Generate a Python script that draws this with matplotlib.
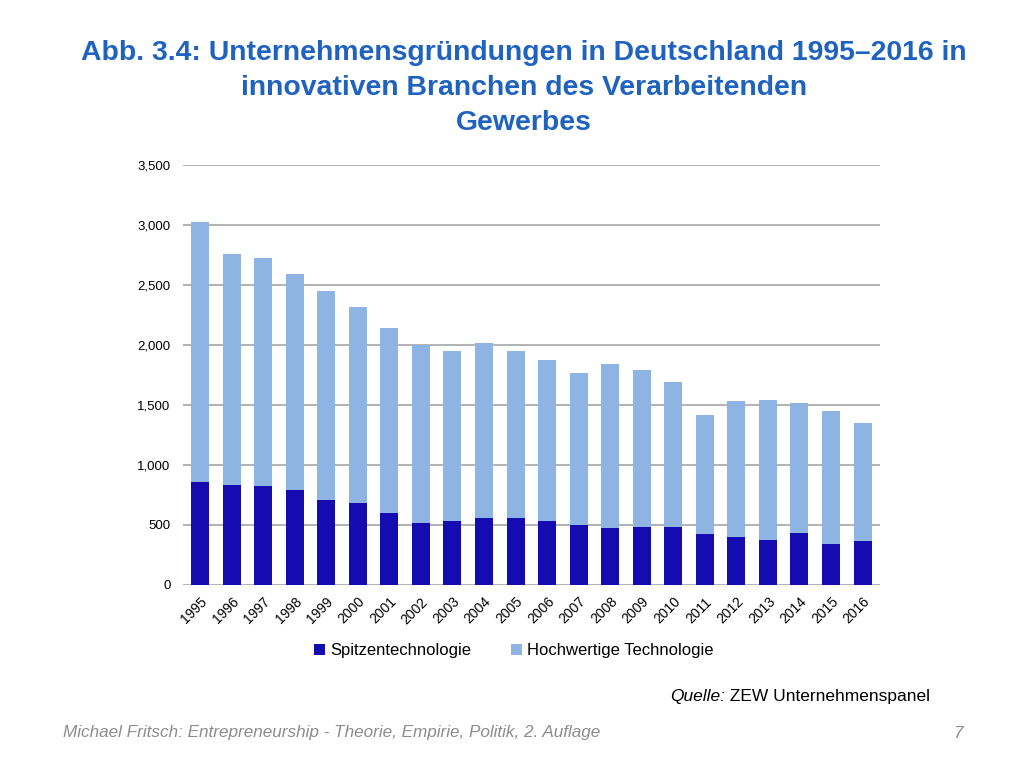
import matplotlib.pyplot as plt
import numpy as np

plt.rcParams['font.family'] = ['Liberation Sans', 'DejaVu Sans']

years = [str(y) for y in range(1995, 2017)]
spitzen = [861, 833, 825, 792, 706, 686, 603, 517, 531, 561, 561, 531, 500, 475, 481, 483,
           422, 397, 378, 431, 344, 369]
gesamt = [3028, 2761, 2728, 2589, 2450, 2319, 2144, 1997, 1947, 2017, 1950, 1872, 1764, 1839,
          1789, 1694, 1417, 1533, 1539, 1519, 1450, 1353]
hochwertig = [g - s for g, s in zip(gesamt, spitzen)]

dark = '#140cb0'
light = '#8eb4e3'

fig = plt.figure(figsize=(10.24, 7.68), dpi=100)
ax = fig.add_axes([0.1787, 0.2383, 0.859 - 0.1787, 0.7852 - 0.2383])

x = np.arange(len(years))
ax.bar(x, spitzen, width=0.57, color=dark, label='Spitzentechnologie', zorder=3)
ax.bar(x, hochwertig, width=0.57, bottom=spitzen, color=light,
       label='Hochwertige Technologie', zorder=3)

ax.set_xlim(-0.54, 21.54)
ax.set_ylim(0, 3500)
ax.set_yticks(np.arange(0, 3501, 500))
ax.set_yticklabels([f'{v:,}' for v in range(0, 3501, 500)], fontsize=9.5)
ax.yaxis.grid(True, color='#a6a6a6', linewidth=1.2, zorder=0)
ax.set_xticks(x)
ax.set_xticklabels(years, rotation=45, ha='right', rotation_mode='anchor', fontsize=10)
ax.tick_params(axis='y', length=0, pad=9)
ax.tick_params(axis='x', length=0, pad=7)
for s in ax.spines.values():
    s.set_visible(False)

fig.legend(loc='center', bbox_to_anchor=(0.502, 1 - 651 / 768), ncol=2, frameon=False,
           fontsize=12, handlelength=0.65, handleheight=0.65, handletextpad=0.3,
           columnspacing=2.4)

fig.text(0.512, 1 - 40 / 768, 'Abb. 3.4: Unternehmensgründungen in Deutschland 1995–2016 in\n'
         'innovativen Branchen des Verarbeitenden\nGewerbes',
         ha='center', va='top', fontsize=20.4, fontweight='bold', color='#1f63be',
         linespacing=1.45)

# Quelle line: italic label followed by plain text
rest = fig.text(930 / 1024, 1 - 697 / 768, ' ZEW Unternehmenspanel',
                ha='right', va='center', fontsize=12.5)
fig.canvas.draw()
bb = rest.get_window_extent()
fig.text(bb.x0 / fig.bbox.width, 1 - 697 / 768, 'Quelle:', ha='right', va='center',
         fontsize=12.5, style='italic')

fig.text(63 / 1024, 1 - 733 / 768,
         'Michael Fritsch: Entrepreneurship - Theorie, Empirie, Politik, 2. Auflage',
         ha='left', va='center', fontsize=12.3, style='italic', color='#8c8c8c')
fig.text(963 / 1024, 1 - 733 / 768, '7', ha='right', va='center', fontsize=12.3,
         style='italic', color='#8c8c8c')

plt.savefig('out.png', dpi=100)
